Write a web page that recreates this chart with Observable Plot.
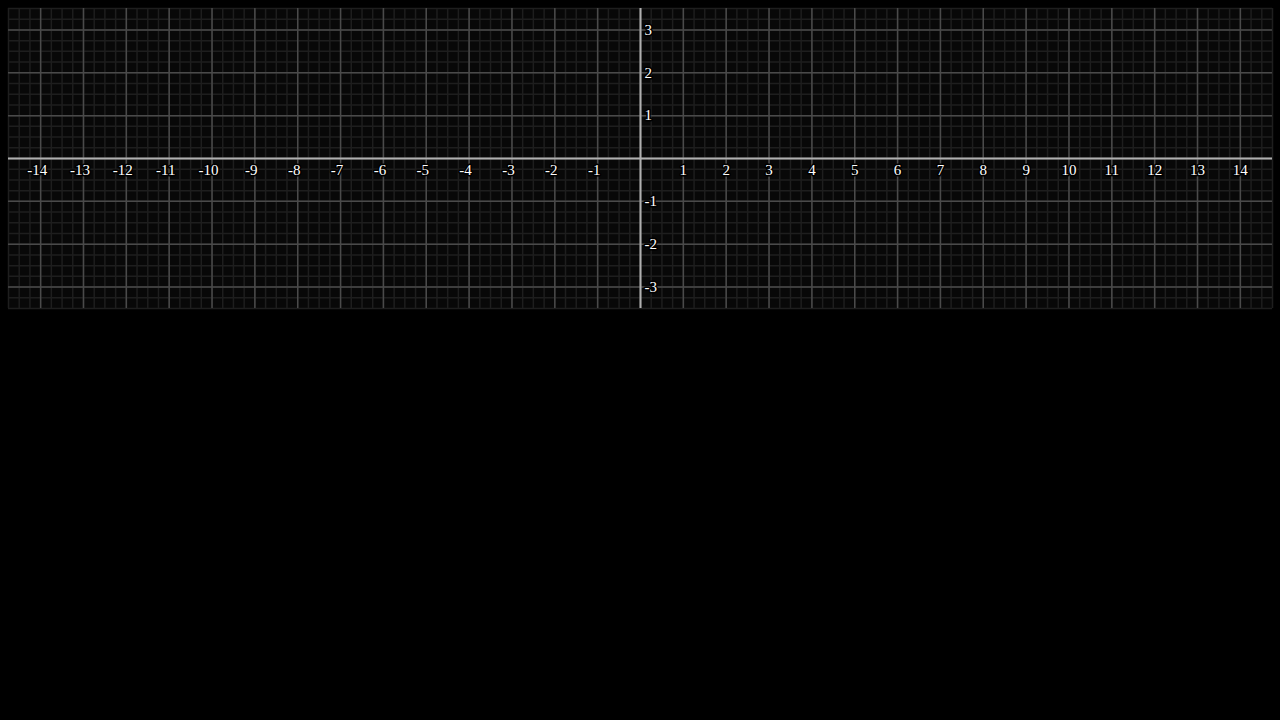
<!DOCTYPE html>
<html>
<head>
<meta charset="utf-8">
<script src="https://cdn.jsdelivr.net/npm/d3@7"></script>
<script src="https://cdn.jsdelivr.net/npm/@observablehq/plot@0.6"></script>
<style>
  html, body { margin: 0; padding: 0; background: #000; }
  #chart svg { display: block; }
</style>
</head>
<body>
<div id="chart"></div>
<script>
const xDomain = [-14.75, 14.75];
const yDomain = [-3.5, 3.5];
const xLabelsNeg = [-14,-13,-12,-11,-10,-9,-8,-7,-6,-5,-4,-3,-2,-1];
const xLabelsPos = [1,2,3,4,5,6,7,8,9,10,11,12,13,14];
const yLabels = [3,2,1,-1,-2,-3];
const xMajor = d3.range(-14, 15, 1);
const yMajor = d3.range(-3, 4, 1);
const xMinor = d3.range(-14.75, 14.76, 0.25);
const yMinor = d3.range(-3.5, 3.51, 0.25);

const labelStyle = {fill: "#fff", fontSize: 15, fontFamily: "Liberation Serif", stroke: "#000", strokeWidth: 3};

const chart = Plot.plot({
  width: 1280,
  height: 316,
  marginTop: 8, marginBottom: 8, marginLeft: 8, marginRight: 8,
  x: {domain: xDomain, axis: null},
  y: {domain: yDomain, axis: null},
  style: {background: "#000", color: "#fff"},
  marks: [
    Plot.frame({fill: "#080808", stroke: null}),
    Plot.ruleX(xMinor, {stroke: "#1e1e1e", strokeWidth: 1.5}),
    Plot.ruleY(yMinor, {stroke: "#1e1e1e", strokeWidth: 1.5}),
    Plot.ruleX(xMajor, {stroke: "#4a4a4a", strokeWidth: 1.5}),
    Plot.ruleY(yMajor, {stroke: "#4a4a4a", strokeWidth: 1.5}),
    Plot.ruleX([0], {stroke: "#b0b0b0", strokeWidth: 2}),
    Plot.ruleY([0], {stroke: "#b0b0b0", strokeWidth: 2}),
    Plot.text(xLabelsNeg, {x: d => d, y: 0, text: d => String(d), dy: 12, dx: -3.5, textAnchor: "middle", ...labelStyle}),
    Plot.text(xLabelsPos, {x: d => d, y: 0, text: d => String(d), dy: 12, textAnchor: "middle", ...labelStyle}),
    Plot.text(yLabels, {x: 0, y: d => d, text: d => String(d), dx: 4, textAnchor: "start", ...labelStyle})
  ]
});
document.getElementById("chart").append(chart);
</script>
</body>
</html>
